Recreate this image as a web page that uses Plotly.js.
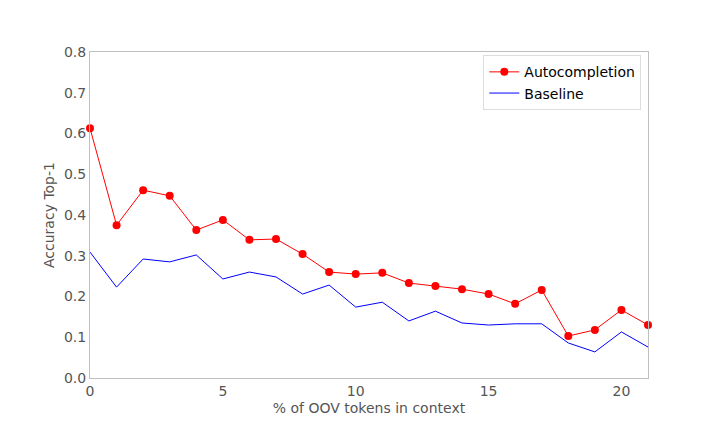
<!DOCTYPE html>
<html>
<head>
<meta charset="utf-8">
<script src="https://cdn.plot.ly/plotly-3.0.1.min.js"></script>
<style>
  body { margin: 0; background: #fff; }
  #graph { width: 720px; height: 432px; }
</style>
</head>
<body>
<div id="graph"></div>
<script>
// % of OOV tokens in context
let oovPercent = [0, 1, 2, 3, 4, 5, 6, 7, 8, 9, 10, 11, 12, 13, 14, 15, 16, 17, 18, 19, 20, 21];

// accuracy values
let autocompletion = [0.613, 0.375, 0.461, 0.447, 0.363, 0.388, 0.339, 0.341, 0.304, 0.260, 0.255,
                      0.258, 0.233, 0.226, 0.218, 0.206, 0.182, 0.216, 0.103, 0.118, 0.167, 0.130];
let baseline = [0.309, 0.223, 0.292, 0.285, 0.302, 0.243, 0.260, 0.248, 0.206, 0.228, 0.174,
                0.186, 0.140, 0.164, 0.135, 0.130, 0.133, 0.133, 0.086, 0.064, 0.113, 0.076];

let xTicks = [0, 5, 10, 15, 20];
let yTicks = [0, 0.1, 0.2, 0.3, 0.4, 0.5, 0.6, 0.7, 0.8];

let data = [
    {
        x: oovPercent,
        y: autocompletion,
        name: "Autocompletion",
        mode: "lines+markers",
        line: {color: "#ff0000", width: 1},
        marker: {color: "#ff0000", size: 8},
        cliponaxis: false
    },
    {
        x: oovPercent,
        y: baseline,
        name: "Baseline",
        mode: "lines",
        line: {color: "#0000ff", width: 1}
    }
];

let axisStyle = {
    showgrid: false,
    zeroline: false,
    showline: true,
    mirror: true,
    linecolor: "#bfbfbf",
    linewidth: 1,
    ticks: "",
    tickfont: {family: "DejaVu Sans", size: 14, color: "#555555"}
};

let layout = {
    width: 720,
    height: 432,
    margin: {l: 90, r: 72, t: 52, b: 54, pad: 0},
    paper_bgcolor: "#ffffff",
    plot_bgcolor: "#ffffff",
    font: {family: "DejaVu Sans", color: "#555555"},
    showlegend: true,
    legend: {
        x: 0.988, y: 0.99,
        xanchor: "right", yanchor: "top",
        bordercolor: "#dddddd",
        borderwidth: 1,
        bgcolor: "#ffffff",
        font: {family: "DejaVu Sans", size: 14, color: "#000000"},
        tracegroupgap: 0
    },
    xaxis: Object.assign({}, axisStyle, {
        range: [0, 21],
        tickvals: xTicks,
        ticktext: xTicks.map(String),
        title: {text: "% of OOV tokens in context", font: {family: "DejaVu Sans", size: 14, color: "#555555"}, standoff: 5}
    }),
    yaxis: Object.assign({}, axisStyle, {
        range: [0, 0.8],
        tickvals: yTicks,
        ticktext: yTicks.map(v => v.toFixed(1)),
        title: {text: "Accuracy Top-1", font: {family: "DejaVu Sans", size: 14, color: "#555555"}, standoff: 6}
    })
};

Plotly.newPlot("graph", data, layout, {displayModeBar: false, staticPlot: true});
</script>
</body>
</html>
